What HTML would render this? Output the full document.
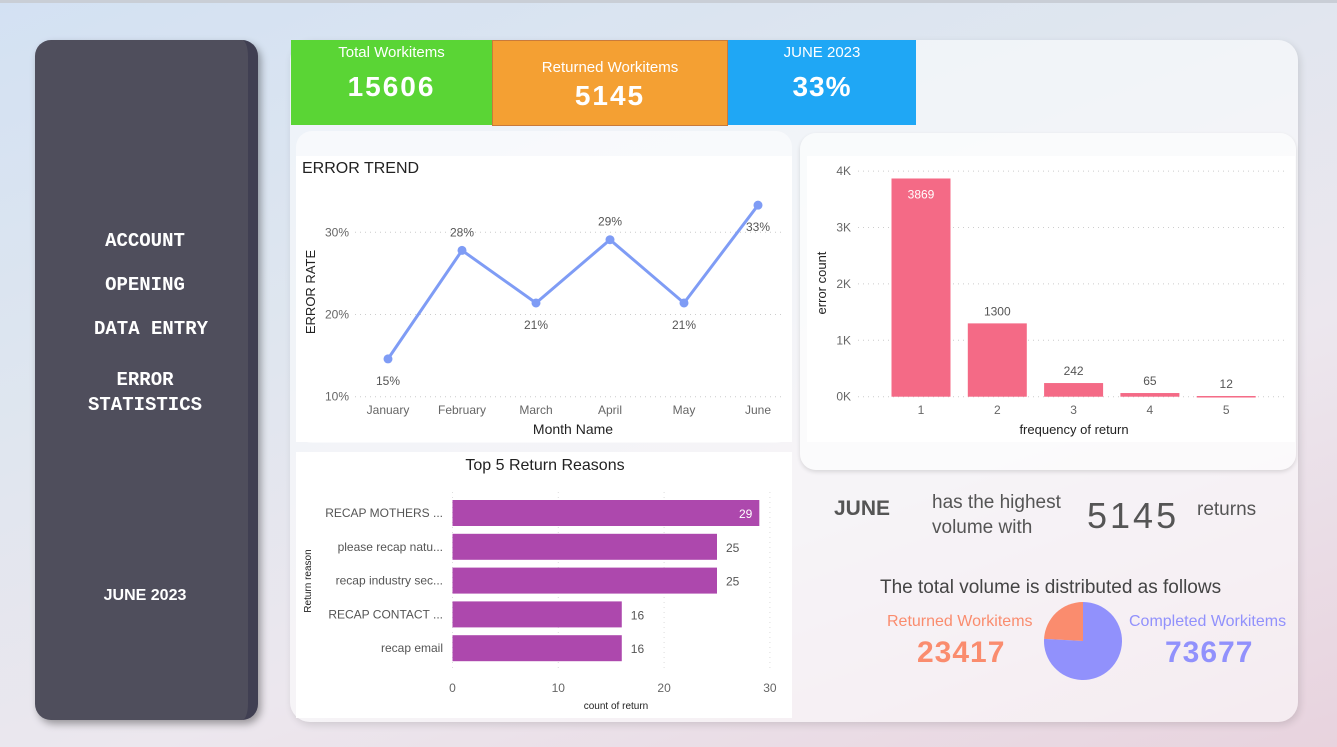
<!DOCTYPE html>
<html><head><meta charset="utf-8">
<style>
html,body{margin:0;padding:0;}
body{width:1337px;height:747px;overflow:hidden;position:relative;font-family:"Liberation Sans",sans-serif;
background:linear-gradient(160deg,#d3e1f3 0%,#dfe6ef 35%,#ece7ee 65%,#e8d3de 100%);}
.abs{position:absolute;}
</style></head><body>
<div class="abs" style="left:0;top:0;width:1337px;height:3px;background:#c9ced6"></div>
<div class="abs" style="left:35px;top:40px;width:223px;height:680px;border-radius:16px;background:#4f4e5c;box-shadow:3px 4px 8px rgba(0,0,0,.35);border-right:10px solid #403f52;box-sizing:border-box;color:#fff;font-family:'Courier New','Liberation Mono',monospace;font-weight:bold;font-size:19px;text-align:center">
  <div class="abs" style="left:0;width:220px;top:190px">ACCOUNT</div>
  <div class="abs" style="left:0;width:220px;top:234px">OPENING</div>
  <div class="abs" style="left:0;width:232px;top:278px">DATA ENTRY</div>
  <div class="abs" style="left:0;width:220px;top:328px;line-height:25px">ERROR<br>STATISTICS</div>
  <div class="abs" style="left:0;width:220px;top:547px;font-family:'Liberation Sans',sans-serif;font-size:16px">JUNE 2023</div>
</div>
<div class="abs" style="left:290px;top:40px;width:1008px;height:682px;border-radius:20px;background:rgba(255,255,255,.55);box-shadow:2px 3px 8px rgba(0,0,0,.12)"></div>

<div class="abs" style="left:291px;top:40px;width:201px;height:85px;background:#5ad535;color:#fff;text-align:center">
  <div style="margin-top:4px;font-size:15px">Total Workitems</div>
  <div style="margin-top:10px;font-size:28px;font-weight:bold;letter-spacing:2px">15606</div>
</div>
<div class="abs" style="left:492px;top:40px;width:236px;height:86px;background:#f4a033;border:1px solid #c97a3a;box-sizing:border-box;color:#fff;text-align:center">
  <div style="margin-top:18px;font-size:15px">Returned Workitems</div>
  <div style="margin-top:4px;font-size:28px;font-weight:bold;letter-spacing:2px">5145</div>
</div>
<div class="abs" style="left:728px;top:40px;width:188px;height:85px;background:#1fa7f5;color:#fff;text-align:center">
  <div style="margin-top:4px;font-size:15px">JUNE 2023</div>
  <div style="margin-top:10px;font-size:28px;font-weight:bold;letter-spacing:1px">33%</div>
</div>

<div class="abs" style="left:296px;top:131px;width:496px;height:312px;border-radius:16px;background:rgba(255,255,255,.5)"></div>
<div class="abs" style="left:800px;top:133px;width:496px;height:337px;border-radius:16px;background:rgba(255,255,255,.6);box-shadow:0 2px 4px rgba(0,0,0,.12)"></div>

<svg class="abs" style="left:0;top:0" width="1337" height="747" font-family="Liberation Sans, sans-serif">
  <rect x="296" y="156" width="496" height="286" fill="#fff"/>
  <rect x="807" y="156" width="488" height="286" fill="#fff"/>
  <rect x="296" y="452" width="496" height="266" fill="#fff"/>
  <g id="trend"></g><g id="freq"></g><g id="reasons"></g><g id="pie"></g>
</svg>

<div class="abs" style="left:834px;top:497px;font-size:21px;font-weight:bold;color:#555">JUNE</div>
<div class="abs" style="left:932px;top:490px;font-size:19px;color:#555;line-height:25px">has the highest<br>volume with</div>
<div class="abs" style="left:1087px;top:495px;font-size:36px;color:#555;letter-spacing:3px">5145</div>
<div class="abs" style="left:1197px;top:499px;font-size:19px;color:#555">returns</div>
<div class="abs" style="left:880px;top:577px;font-size:19px;color:#444">The total volume is distributed as follows</div>
<div class="abs" style="left:887px;top:613px;font-size:16px;color:#fa8c6e">Returned Workitems</div>
<div class="abs" style="left:917px;top:636px;font-size:30px;font-weight:bold;color:#fa8c6e;letter-spacing:1px">23417</div>
<div class="abs" style="left:1129px;top:613px;font-size:16px;color:#9191fc">Completed Workitems</div>
<div class="abs" style="left:1165px;top:636px;font-size:30px;font-weight:bold;color:#9191fc;letter-spacing:1px">73677</div>

<script>
const NS='http://www.w3.org/2000/svg';
function mk(parent,tag,attrs,text){const e=document.createElementNS(NS,tag);for(const k in attrs)e.setAttribute(k,attrs[k]);if(text!==undefined)e.textContent=text;parent.appendChild(e);return e;}

// ---- Error trend data
const trendMonths=['January','February','March','April','May','June'];
const trendValues=[14.6,27.8,21.4,29.1,21.4,33.3];
const trendTicks=[10,20,30];
// ---- Frequency data
const freqCats=['1','2','3','4','5'];
const freqValues=[3869,1300,242,65,12];
const freqTicks=[0,1000,2000,3000,4000];
// ---- Reasons data
const reasonCats=['RECAP MOTHERS ...','please recap natu...','recap industry sec...','RECAP CONTACT ...','recap email'];
const reasonValues=[29,25,25,16,16];
const reasonTicks=[0,10,20,30];
// ---- Pie data
const pieLabels=['Returned Workitems','Completed Workitems'];
const pieValues=[23417,73677];

// Trend chart
{const g=document.getElementById('trend');
const y=v=>396.7-(v-10)*8.22, x=i=>388+i*74;
let t=mk(g,'text',{x:302,y:173,'font-size':16,fill:'#222'},'ERROR TREND');

trendTicks.forEach(v=>{let l=mk(g,'line',{x1:355,x2:785,y1:y(v),y2:y(v),stroke:'#ccc','stroke-dasharray':'1 4'});

let tt=mk(g,'text',{x:349,y:y(v)+4,'text-anchor':'end','font-size':12,fill:'#666'},v+'%');
});
let yt=mk(g,'text',{transform:'translate(315,292) rotate(-90)','text-anchor':'middle','font-size':13,fill:'#222'},'ERROR RATE');

let xt=mk(g,'text',{x:573,y:434,'text-anchor':'middle','font-size':14,fill:'#222'},'Month Name');

let p=mk(g,'polyline',{points:trendValues.map((v,i)=>x(i)+','+y(v)).join(' '),fill:'none',stroke:'#7f9cf5','stroke-width':3});

trendValues.forEach((v,i)=>{
 let c=mk(g,'circle',{cx:x(i),cy:y(v),r:4.5,fill:'#7f9cf5'});
 
 const prev=trendValues[i-1],next=trendValues[i+1];
 const peak=(prev===undefined||v>prev)&&(next===undefined||v>next)&&next!==undefined;
 let lb=mk(g,'text',{x:x(i),y:peak?y(v)-14:y(v)+26,'text-anchor':'middle','font-size':12,fill:'#555'},Math.round(v)+'%');
 
 let ml=mk(g,'text',{x:x(i),y:414,'text-anchor':'middle','font-size':12,fill:'#666'},trendMonths[i]);
 });}

// Frequency chart
{const g=document.getElementById('freq');
const y=v=>396.7-v*0.0564, x=i=>921+i*76.3, w=59;
freqTicks.forEach(v=>{let l=mk(g,'line',{x1:858,x2:1285,y1:y(v),y2:y(v),stroke:'#ccc','stroke-dasharray':'1 4'});

let tt=mk(g,'text',{x:851,y:y(v)+4,'text-anchor':'end','font-size':12,fill:'#666'},(v/1000)+'K');
});
let yt=mk(g,'text',{transform:'translate(826,283) rotate(-90)','text-anchor':'middle','font-size':13,fill:'#222'},'error count');

let xt=mk(g,'text',{x:1074,y:434,'text-anchor':'middle','font-size':13,fill:'#222'},'frequency of return');

freqValues.forEach((v,i)=>{
 let r=mk(g,'rect',{x:x(i)-w/2,y:y(v),width:w,height:Math.max(396.7-y(v),1.5),fill:'#f46a86'});
 
 const inside=(396.7-y(v))>150;
 let lb=mk(g,'text',{x:x(i),y:inside?y(v)+20:y(v)-8,'text-anchor':'middle','font-size':12,fill:inside?'#fff':'#555'},String(v));
 
 let ct=mk(g,'text',{x:x(i),y:414,'text-anchor':'middle','font-size':12,fill:'#666'},freqCats[i]);
 });}

// Reasons chart
{const g=document.getElementById('reasons');
const x=v=>452.5+v*10.58, y=i=>513+i*33.8, h=26;
let t=mk(g,'text',{x:545,y:470,'text-anchor':'middle','font-size':16,fill:'#222'},'Top 5 Return Reasons');

reasonTicks.forEach(v=>{let l=mk(g,'line',{x1:x(v),x2:x(v),y1:492,y2:670,stroke:'#ddd','stroke-dasharray':'1 4'});

let tt=mk(g,'text',{x:x(v),y:692,'text-anchor':'middle','font-size':12,fill:'#666'},String(v));
});
let xt=mk(g,'text',{x:616,y:709,'text-anchor':'middle','font-size':10,fill:'#222'},'count of return');

let yt=mk(g,'text',{transform:'translate(311,581) rotate(-90)','text-anchor':'middle','font-size':10,fill:'#222'},'Return reason');

reasonValues.forEach((v,i)=>{
 let r=mk(g,'rect',{x:x(0),y:y(i)-h/2,width:x(v)-x(0),height:h,fill:'#ad48ad'});
 
 const inside=v>=28;
 let lb=mk(g,'text',{x:inside?x(v)-7:x(v)+9,y:y(i)+5,'text-anchor':inside?'end':'start','font-size':12,fill:inside?'#fff':'#555'},String(v));
 
 let ct=mk(g,'text',{x:443,y:y(i)+4,'text-anchor':'end','font-size':12,fill:'#555'},reasonCats[i]);
 });}

// Pie
{const g=document.getElementById('pie');
const cx=1083,cy=641,r=39,tot=pieValues.reduce((a,b)=>a+b,0);
const cols=['#fa8c6e','#9191fc'];
let a0=0;
pieValues.forEach((v,i)=>{
 const a1=a0+v/tot*2*Math.PI;
 const p=a=>[cx-Math.sin(a)*r,cy-Math.cos(a)*r];
 const [x0,y0]=p(a0),[x1,y1]=p(a1);
 const large=(a1-a0)>Math.PI?1:0;
 let s=mk(g,'path',{d:`M${cx},${cy} L${x0},${y0} A${r},${r} 0 ${large} 0 ${x1},${y1} Z`,fill:cols[i]});
 
 
 a0=a1;});}
</script>
</body></html>
